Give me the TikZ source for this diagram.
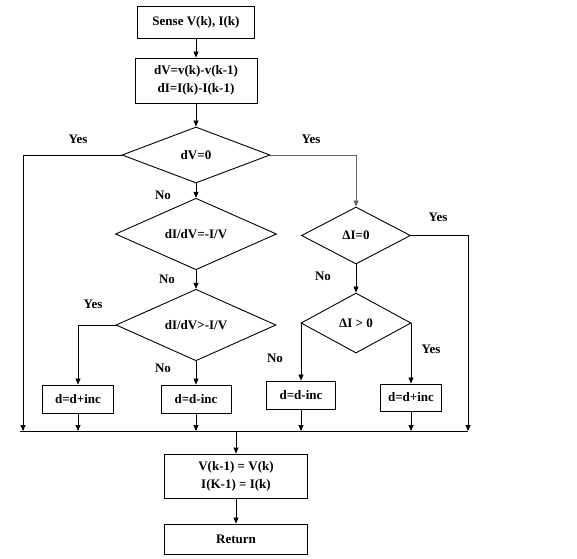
\documentclass[tikz,border=0pt]{standalone}
\usepackage{fontspec}
\setmainfont{Liberation Serif}
\usetikzlibrary{positioning, arrows.meta, shapes.geometric}

\begin{document}
\begin{tikzpicture}[x=1pt, y=-1pt,
      every node/.style={font=\fontsize{13}{18}\selectfont\bfseries},
      blk/.style={draw, line width=0.9pt, inner sep=0pt, align=center},
      dmd/.style={draw, diamond, line width=0.9pt, inner sep=0pt},
      lbl/.style={inner sep=0pt},
      arr/.style={line width=0.8pt, -{Triangle[length=6pt,width=5pt]}}]

    \useasboundingbox (0,0) rectangle (577,558);

    \node[blk, minimum width=117pt, minimum height=32pt] (sense) at (196,22) {Sense V(k), I(k)};
    \node[blk, minimum width=122pt, minimum height=45pt] (diff) at (196,80.5) {dV=v(k)-v(k-1)\\dI=I(k)-I(k-1)};

    \node[dmd, minimum width=148pt, minimum height=56pt] (dv0) at (196,155) {dV=0};
    \node[dmd, minimum width=161pt, minimum height=64pt] (eqc) at (196,234) {dI/dV=-I/V};
    \node[dmd, minimum width=160pt, minimum height=62pt] (gtc) at (196,325) {dI/dV>-I/V};
    \node[dmd, minimum width=109pt, minimum height=57pt] (di0) at (356,235.5) {ΔI=0};
    \node[dmd, minimum width=110pt, minimum height=60pt] (dig) at (356,323) {ΔI > 0};

    \node[blk, minimum width=71pt, minimum height=28pt] (incA) at (78,399) {d=d+inc};
    \node[blk, minimum width=70pt, minimum height=28pt] (decA) at (196,399) {d=d-inc};
    \node[blk, minimum width=69pt, minimum height=28pt] (decB) at (301,395) {d=d-inc};
    \node[blk, minimum width=61pt, minimum height=27pt] (incB) at (411,397.5) {d=d+inc};

    \node[blk, minimum width=143pt, minimum height=44pt] (upd) at (236,476) {V(k-1) = V(k)\\I(K-1) = I(k)};
    \node[blk, minimum width=143pt, minimum height=30pt] (ret) at (236,539) {Return};

    \coordinate (jl0) at (20,431);
    \coordinate (jl) at (23,431);
    \coordinate (jr) at (468,431);
    \coordinate (jm) at (236,431);

    \draw[arr] (sense) -- (diff);
    \draw[arr] (diff) -- (dv0);
    \draw[arr] (dv0.west) -| (jl);
    \draw[arr, black!60] (dv0.east) -| (di0.north);
    \draw[arr] (dv0) -- (eqc);
    \draw[arr] (eqc) -- (gtc);
    \draw[arr] (gtc.west) -| (incA.north);
    \draw[arr] (gtc) -- (decA);
    \draw[arr] (di0.east) -| (jr);
    \draw[arr] (di0) -- (dig);
    \draw[arr] (dig.west) -| (decB.north);
    \draw[arr] (dig.east) -| (incB.north);

    \draw[line width=0.8pt] (jl0) -- (jr);
    \foreach \n in {incA, decA, decB, incB}
      \draw[arr] (\n.south) -- (\n.south |- jl);
    \draw[arr] (jm) -- (upd);
    \draw[arr] (upd) -- (ret);

    \node[lbl] (y1) at (78,139) {Yes};
    \node[lbl] (y2) at (311,139) {Yes};
    \node[lbl] (y3) at (438,217) {Yes};
    \node[lbl] (y4) at (93,304) {Yes};
    \node[lbl] (y5) at (431,349) {Yes};
    \node[lbl] (n1) at (163,195) {No};
    \node[lbl] (n2) at (167,279) {No};
    \node[lbl] (n3) at (163,368) {No};
    \node[lbl] (n4) at (323,276) {No};
    \node[lbl] (n5) at (275,358) {No};
  \end{tikzpicture}
\end{document}
